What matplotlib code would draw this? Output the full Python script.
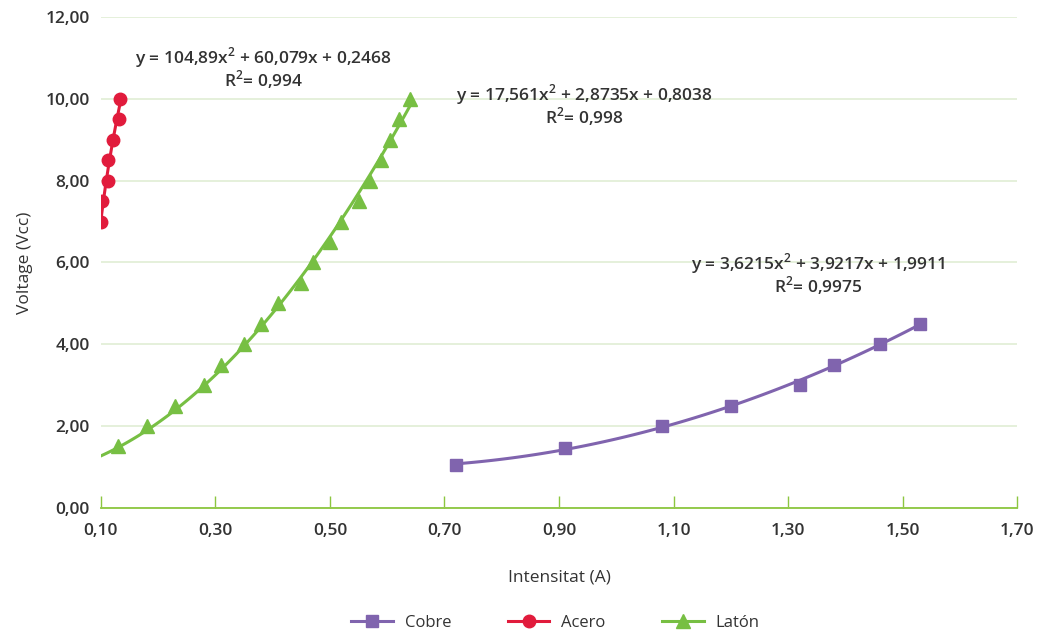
import matplotlib.pyplot as plt
import numpy as np

plt.rcParams['font.family'] = ['Open Sans', 'DejaVu Sans']
plt.rcParams['mathtext.fontset'] = 'custom'
plt.rcParams['mathtext.rm'] = 'Open Sans:semibold'

# Cobre
cobre_x = [0.72, 0.91, 1.08, 1.20, 1.32, 1.38, 1.46, 1.53]
cobre_y = [1.05, 1.45, 2.0, 2.5, 3.0, 3.5, 4.0, 4.5]
# Acero
acero_x = [0.101, 0.102, 0.112, 0.112, 0.121, 0.132, 0.133]
acero_y = [7.0, 7.5, 8.0, 8.5, 9.0, 9.5, 10.0]
# Laton
laton_x = [0.13, 0.18, 0.23, 0.28, 0.31, 0.35, 0.38, 0.41, 0.45,
           0.47, 0.50, 0.52, 0.55, 0.57, 0.59, 0.605, 0.62, 0.64]
laton_y = [1.5, 2.0, 2.5, 3.0, 3.5, 4.0, 4.5, 5.0, 5.5,
           6.0, 6.5, 7.0, 7.5, 8.0, 8.5, 9.0, 9.5, 10.0]
laton_coef = [17.561, 2.8735, 0.8038]

eq_cobre = ["y = 3,6215x$^{\\mathrm{2}}$ + 3,9217x + 1,9911", "R$^{\\mathrm{2}}$= 0,9975"]
eq_acero = ["y = 104,89x$^{\\mathrm{2}}$ + 60,079x + 0,2468", "R$^{\\mathrm{2}}$= 0,994"]
eq_laton = ["y = 17,561x$^{\\mathrm{2}}$ + 2,8735x + 0,8038", "R$^{\\mathrm{2}}$= 0,998"]

xticks = [0.10, 0.30, 0.50, 0.70, 0.90, 1.10, 1.30, 1.50, 1.70]
yticks = [0, 2, 4, 6, 8, 10, 12]

purple = '#8064AE'
red = '#E11B3C'
green = '#77BF43'
txt = '#333333'

fig = plt.figure(figsize=(10.4, 6.37), dpi=100)
ax = fig.add_axes([0.097, 0.203, 0.881, 0.770])

# trendlines
c = np.polyfit(cobre_x, cobre_y, 2)
xs = np.linspace(min(cobre_x), max(cobre_x), 100)
ax.plot(xs, np.polyval(c, xs), color=purple, lw=2.2, zorder=3)

c = np.polyfit(acero_y, acero_x, 2)
ys = np.linspace(min(acero_y), max(acero_y), 100)
ax.plot(np.polyval(c, ys), ys, color=red, lw=2.2, zorder=3)

xs = np.linspace(0.10, max(laton_x), 100)
ax.plot(xs, np.polyval(laton_coef, xs), color=green, lw=2.2, zorder=3)

ax.plot(cobre_x, cobre_y, 's', color=purple, ms=8.5, zorder=4)
ax.plot(acero_x, acero_y, 'o', color=red, ms=9, zorder=4)
ax.plot(laton_x, laton_y, '^', color=green, ms=10.5, zorder=4)

# legend handles
hc, = ax.plot([], [], '-s', color=purple, lw=2.2, ms=8.5, label='Cobre')
ha, = ax.plot([], [], '-o', color=red, lw=2.2, ms=9, label='Acero')
hl, = ax.plot([], [], '-^', color=green, lw=2.2, ms=10.5, label='Lat\u00f3n')
fig.legend(handles=[hc, ha, hl], loc='center', bbox_to_anchor=(0.534, 0.022),
           ncol=3, frameon=False, fontsize=12, handlelength=2.5,
           columnspacing=3.4, handletextpad=0.7, labelcolor=txt)

kw = dict(ha='center', va='center', fontsize=12.5, fontweight='semibold',
          color=txt)
# two lines per equation, 22 px apart (0.54 data units)
for (l1, l2), (tx, ty) in zip([eq_acero, eq_laton, eq_cobre],
                              [(0.384, 10.73), (0.944, 9.83), (1.353, 5.70)]):
    ax.text(tx, ty + 0.27, l1, **kw)
    ax.text(tx, ty - 0.27, l2, **kw)

ax.set_xlim(0.10, 1.70)
ax.set_ylim(0, 12)
ax.set_xticks(xticks)
ax.set_xticklabels([f"{v:.2f}".replace('.', ',') for v in xticks])
ax.set_yticks(yticks)
ax.set_yticklabels([f"{v:.2f}".replace('.', ',') for v in yticks])

for s in ['top', 'right', 'left']:
    ax.spines[s].set_visible(False)
ax.spines['bottom'].set_color('#8CC63F')
ax.spines['bottom'].set_linewidth(1.3)
ax.grid(axis='y', color='#E3EFD8', lw=1.3)
ax.set_axisbelow(True)

ax.tick_params(axis='x', direction='in', length=9, color='#8CC63F', width=1,
               pad=11, labelsize=12.5, labelcolor=txt)
ax.tick_params(axis='y', length=0, pad=8, labelsize=12.5, labelcolor=txt)
for lab in ax.get_xticklabels() + ax.get_yticklabels():
    lab.set_fontweight('semibold')

ax.set_xlabel('Intensitat (A)', fontsize=12.5, color=txt, labelpad=22)
ax.set_ylabel('Voltage (Vcc)', fontsize=12.5, color=txt, labelpad=9)

fig.savefig('out.png', dpi=100)
